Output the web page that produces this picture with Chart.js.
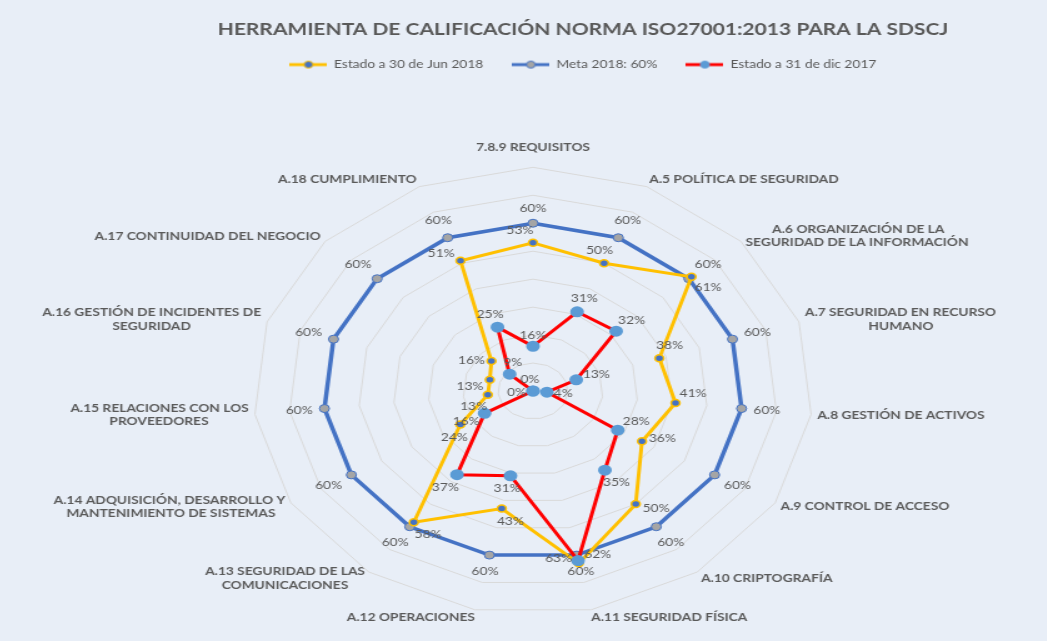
<!DOCTYPE html>
<html>
<head>
<meta charset="utf-8">
<script src="https://cdn.jsdelivr.net/npm/chart.js@4.4.0/dist/chart.umd.min.js"></script>
<style>
    html, body { margin: 0; padding: 0; overflow: hidden; background: #E8EEF7; }
    /* la imagen original está estirada en horizontal */
    #marco { position: absolute; left: 0; top: 0; width: 1000px; height: 641px;
             transform-origin: 0 0; transform: translateX(-42px) scaleX(1.25); }
</style>
</head>
<body>
<div id="marco"><canvas id="grafico"></canvas></div>
<script>
const categorias = [
    '7.8.9 REQUISITOS',
    'A.5 POLÍTICA DE SEGURIDAD',
    ['A.6 ORGANIZACIÓN DE LA', 'SEGURIDAD DE LA INFORMACIÓN'],
    ['A.7 SEGURIDAD EN RECURSO', 'HUMANO'],
    'A.8 GESTIÓN DE ACTIVOS',
    'A.9 CONTROL DE ACCESO',
    'A.10 CRIPTOGRAFÍA',
    'A.11 SEGURIDAD FÍSICA',
    'A.12 OPERACIONES',
    ['A.13 SEGURIDAD DE LAS', 'COMUNICACIONES'],
    ['A.14 ADQUISICIÓN, DESARROLLO Y', 'MANTENIMIENTO DE SISTEMAS'],
    ['A.15 RELACIONES CON LOS', 'PROVEEDORES'],
    ['A.16 GESTIÓN DE INCIDENTES DE', 'SEGURIDAD'],
    'A.17 CONTINUIDAD DEL NEGOCIO',
    'A.18 CUMPLIMIENTO'
];
const estadoJun2018 = [53, 50, 61, 38, 41, 36, 50, 63, 43, 58, 24, 13, 13, 16, 51];
const meta2018 = [60, 60, 60, 60, 60, 60, 60, 60, 60, 60, 60, 60, 60, 60, 60];
const estadoDic2017 = [16, 31, 32, 13, 4, 28, 35, 62, 31, 37, 16, 0, 0, 9, 25];
const escalaMax = 80;
const escalaPaso = 10;

const GRIS = '#595959';
const FUENTE = 'Lato, "Open Sans", sans-serif';
const fuenteEjes = 'bold 11px ' + FUENTE;

// centra las lineas cortas con espacios (como en Excel)
function centrarLineas(texto, i, total) {
    if (!Array.isArray(texto)) return texto;
    const m = document.createElement('canvas').getContext('2d');
    m.font = fuenteEjes;
    const ancho = Math.max(...texto.map(t => m.measureText(t).width));
    const esp = m.measureText(' ').width;
    const izquierda = i > total / 2;
    return texto.map(t => {
        const n = Math.round((ancho - m.measureText(t).width) / 2 / esp);
        const relleno = ' '.repeat(n);
        return izquierda ? t + relleno : relleno + t;
    });
}
const etiquetasEje = categorias.map((c, i) => centrarLineas(c, i, categorias.length));

function separacionEje(i) {
    const cos = Math.cos(i * 2 * Math.PI / categorias.length);
    if (i === 0) return 13;
    if (cos < -0.95) return 0;
    return 5;
}

// muestra de la leyenda: linea con marcador
function crearMuestra(colorLinea, relleno, borde) {
    const c = document.createElement('canvas');
    c.width = 30;
    c.height = 10;
    const g = c.getContext('2d');
    g.strokeStyle = colorLinea;
    g.lineWidth = 3;
    g.beginPath();
    g.moveTo(0, 5);
    g.lineTo(30, 5);
    g.stroke();
    g.beginPath();
    g.arc(15, 5, 3.5, 0, Math.PI * 2);
    g.fillStyle = relleno;
    g.fill();
    g.lineWidth = 1;
    g.strokeStyle = borde;
    g.stroke();
    return c;
}

// distancia base y giros (grados) de las etiquetas de cada serie
const ajusteEtiquetas = [
    { base: 5, giros: [-40, -80, 0, 40, 80, 120] },
    { base: 9, giros: [0, 40, -40] },
    { base: 5, giros: [0, -60, 60, -100, 100, 180] }
];

const etiquetasDatos = {
    id: 'etiquetasDatos',
    afterDatasetsDraw(chart) {
        const ctx = chart.ctx;
        const escala = chart.scales.r;
        const puestas = [];
        ctx.save();
        ctx.font = '11px ' + FUENTE;
        ctx.fillStyle = GRIS;
        ctx.textAlign = 'center';
        ctx.textBaseline = 'middle';
        [1, 0, 2].forEach(i => {
            const ds = chart.data.datasets[i];
            const aj = ajusteEtiquetas[i];
            chart.getDatasetMeta(i).data.forEach((pt, j) => {
                const texto = ds.data[j] + '%';
                const w = ctx.measureText(texto).width;
                let pos = null;
                for (const g of aj.giros) {
                    const ang = escala.getIndexAngle(j) + g * Math.PI / 180;
                    const s = Math.sin(ang), c = Math.cos(ang);
                    const d = aj.base + Math.abs(s) * w / 2 + Math.abs(c) * 5.5;
                    const cand = { x: pt.x + s * d, y: pt.y - c * d, w };
                    const libre = !puestas.some(o =>
                        Math.abs(o.x - cand.x) < (o.w + cand.w) / 2 + 2 && Math.abs(o.y - cand.y) < 12);
                    if (!pos) pos = cand;
                    if (libre) { pos = cand; break; }
                }
                puestas.push(pos);
                ctx.fillText(texto, pos.x, pos.y);
            });
        });
        ctx.restore();
    }
};

const ctx = document.getElementById('grafico').getContext('2d');
new Chart(ctx, {
    type: 'radar',
    data: {
        labels: etiquetasEje,
        datasets: [{
            label: 'Estado a 30 de Jun 2018',
            data: estadoJun2018,
            borderColor: '#FFC000',
            backgroundColor: 'transparent',
            borderWidth: 3,
            pointBackgroundColor: '#4472C4',
            pointBorderColor: '#FFC000',
            pointBorderWidth: 1.5,
            pointRadius: 3.5,
            fill: false,
            order: 1
        }, {
            label: 'Meta 2018: 60%',
            data: meta2018,
            borderColor: '#4472C4',
            backgroundColor: 'transparent',
            borderWidth: 3.5,
            pointBackgroundColor: '#A5A5A5',
            pointBorderColor: '#4472C4',
            pointBorderWidth: 1,
            pointRadius: 4,
            fill: false,
            order: 2
        }, {
            label: 'Estado a 31 de dic 2017',
            data: estadoDic2017,
            borderColor: '#FF0000',
            backgroundColor: 'transparent',
            borderWidth: 3,
            pointBackgroundColor: '#5B9BD5',
            pointBorderColor: '#5B9BD5',
            pointRadius: 4,
            fill: false,
            order: 0
        }]
    },
    options: {
        responsive: true,
        maintainAspectRatio: false,
        animation: false,
        layout: { padding: { bottom: 7.6 } },
        plugins: {
            title: {
                display: true,
                text: 'HERRAMIENTA DE CALIFICACIÓN NORMA ISO27001:2013 PARA LA SDSCJ',
                color: GRIS,
                font: { family: FUENTE, size: 16.8, weight: 'bold', lineHeight: 0.75 },
                padding: { top: 23.5, bottom: 0 }
            },
            legend: {
                position: 'top',
                labels: {
                    color: GRIS,
                    font: { family: FUENTE, size: 11 },
                    usePointStyle: true,
                    pointStyleWidth: 30,
                    padding: 23,
                    generateLabels(chart) {
                        return chart.data.datasets.map((ds, i) => ({
                            text: ds.label,
                            pointStyle: crearMuestra(ds.borderColor, ds.pointBackgroundColor, ds.pointBorderColor),
                            fillStyle: ds.borderColor,
                            strokeStyle: ds.borderColor,
                            lineWidth: 0,
                            hidden: false,
                            fontColor: GRIS,
                            datasetIndex: i
                        }));
                    }
                }
            },
            tooltip: { enabled: false }
        },
        scales: {
            r: {
                min: 0,
                max: escalaMax,
                ticks: { display: false, stepSize: escalaPaso },
                grid: { color: '#D9D9D9', lineWidth: 1 },
                angleLines: { display: false },
                pointLabels: {
                    color: GRIS,
                    font: { family: FUENTE, size: 11, weight: 'bold' },
                    padding: (c) => separacionEje(c.index)
                },
                // Excel centra los rotulos en vertical junto al vertice
                afterFit(s) {
                    (s._pointLabelItems || []).forEach((it, i) => {
                        if (i === 0) return;
                        const cos = Math.cos(s.getIndexAngle(i));
                        const h = it.bottom - it.top;
                        const dy = -8 * cos + cos * separacionEje(i) + (cos > 0 ? h / 2 : -h / 2);
                        it.y += dy;
                        it.top += dy;
                        it.bottom += dy;
                    });
                }
            },
            // espaciadores para ubicar el radar como en el original
            espacioDerecha: {
                type: 'linear', position: 'right', display: true,
                grid: { display: false }, border: { display: false }, ticks: { display: false },
                afterFit(s) { s.width = 80; }
            },
            espacioArriba: {
                type: 'linear', position: 'top', display: true,
                grid: { display: false }, border: { display: false }, ticks: { display: false },
                afterFit(s) { s.height = 52; }
            }
        }
    },
    plugins: [etiquetasDatos]
});
</script>
</body>
</html>
